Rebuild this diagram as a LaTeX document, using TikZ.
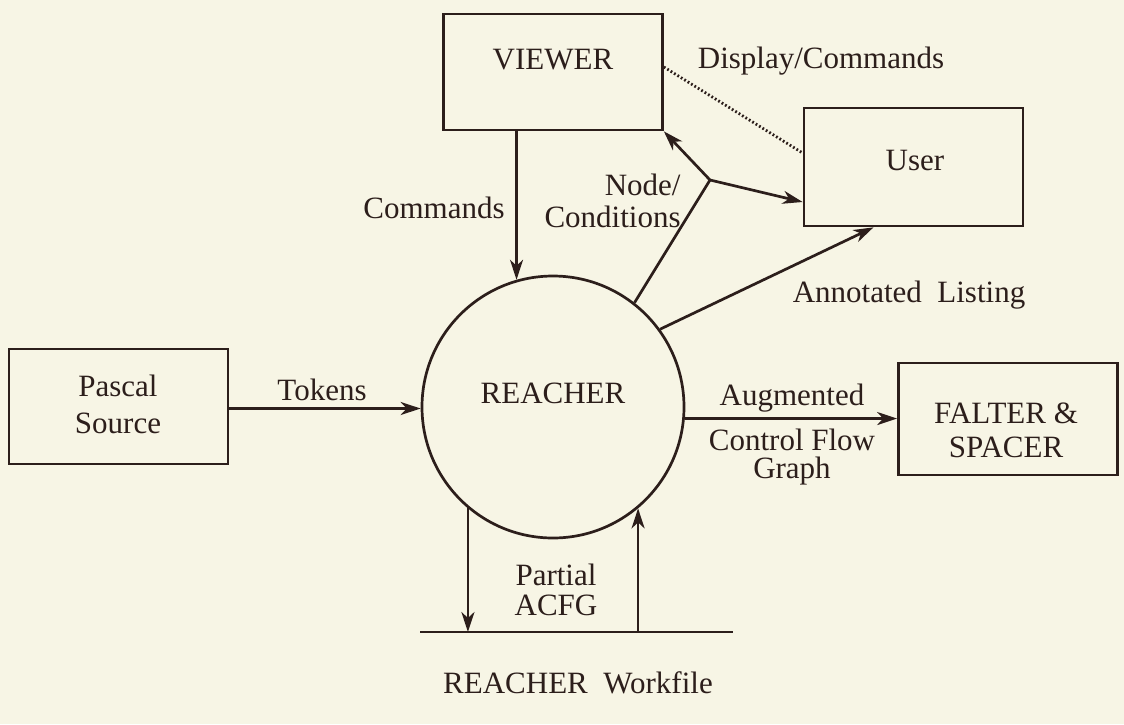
\documentclass[tikz,border=0pt]{standalone}
\usepackage{fontspec}
\setmainfont{Liberation Serif}
\usetikzlibrary{arrows.meta}
\definecolor{ink}{RGB}{44,30,27}
\definecolor{paper}{RGB}{247,245,229}
\newcommand{\labfont}[1]{\fontsize{15.5}{#1}\selectfont}
\tikzset{
  ln/.style={line width=1.35pt, draw=ink},
  box/.style={ln, rectangle, minimum width=109.5pt, minimum height=58pt, inner sep=0pt},
  arr/.style={ln, -{Stealth[length=10pt,width=6.5pt,inset=3pt]}},
  dotline/.style={draw=ink, line width=1.4pt, dash pattern=on 0.9pt off 1.1pt},
  lbl/.style={font=\labfont{17pt}, text=ink, inner sep=0pt},
}
\begin{document}
\begin{tikzpicture}[x=0.5pt,y=-0.5pt]
\fill[paper] (0,0) rectangle (1124,724);
\useasboundingbox (0,0) rectangle (1124,724);

% boxes and process
\node[box] (viewer) at (553,72) {};
\node[box, minimum height=59pt] (user) at (913.5,167) {};
\node[box, minimum height=57.5pt] (pascal) at (118.5,406.5) {};
\node[box, minimum height=56pt] (falter) at (1008,419) {};
\node[ln, circle, minimum size=131pt, inner sep=0pt] (reacher) at (553,407) {};

% texts
\node[lbl] (tviewer) at (553,60) {VIEWER};
\node[lbl] (tuser) at (915,160) {User};
\node[lbl, font=\labfont{18.5pt}, align=center] (tpascal) at (118,404) {Pascal\\Source};
\node[lbl, align=center] (tfalter) at (1006,430) {FALTER \&\\SPACER};
\node[lbl] (treacher) at (553,393) {REACHER};
\node[lbl] (tdisp) at (821,61) {Display/Commands};
\node[lbl, anchor=east] (tcmd) at (505,208) {Commands};
\node[lbl, font=\labfont{16pt}, align=right, anchor=east] (tnode) at (681,201) {Node/\\Conditions};
\node[lbl] (tann) at (909,295) {Annotated\ \ Listing};
\node[lbl] (ttok) at (322,390) {Tokens};
\node[lbl] (taug) at (792,398) {Augmented};
\node[lbl, font=\labfont{14pt}, align=center] (tcfg) at (792,457) {Control Flow\\Graph};
\node[lbl, font=\labfont{15pt}, align=center] (tpart) at (556,590) {Partial\\ACFG};
\node[lbl] (twork) at (578,683) {REACHER\ \ Workfile};

% helper coordinates
\coordinate (J) at (710,180);
\coordinate (wl) at (420,632);
\coordinate (wr) at (733,632);

% connectors
\draw[arr] (reacher.106 |- viewer.south) -- (reacher.106);
\draw[ln] (reacher.52) -- (J);
\draw[arr] (J) -- (viewer.south east);
\draw[arr] (J) -- ([yshift=-17.5pt]user.west);
\draw[arr] (reacher.36) -- ([xshift=-20pt]user.south);
\draw[dotline] ([yshift=2.5pt]viewer.east) -- ([yshift=7pt]user.west);
\draw[arr] ([yshift=-1pt]pascal.east) -- ([yshift=-1pt]pascal.east -| reacher.west);
\draw[arr] (reacher.-5) -- (reacher.-5 -| falter.west);
\draw[ln] (wl) -- (wr);
\draw[arr] (reacher.-130) -- (reacher.-130 |- wl);
\draw[arr] (reacher.-50 |- wl) -- (reacher.-50);
\end{tikzpicture}
\end{document}
